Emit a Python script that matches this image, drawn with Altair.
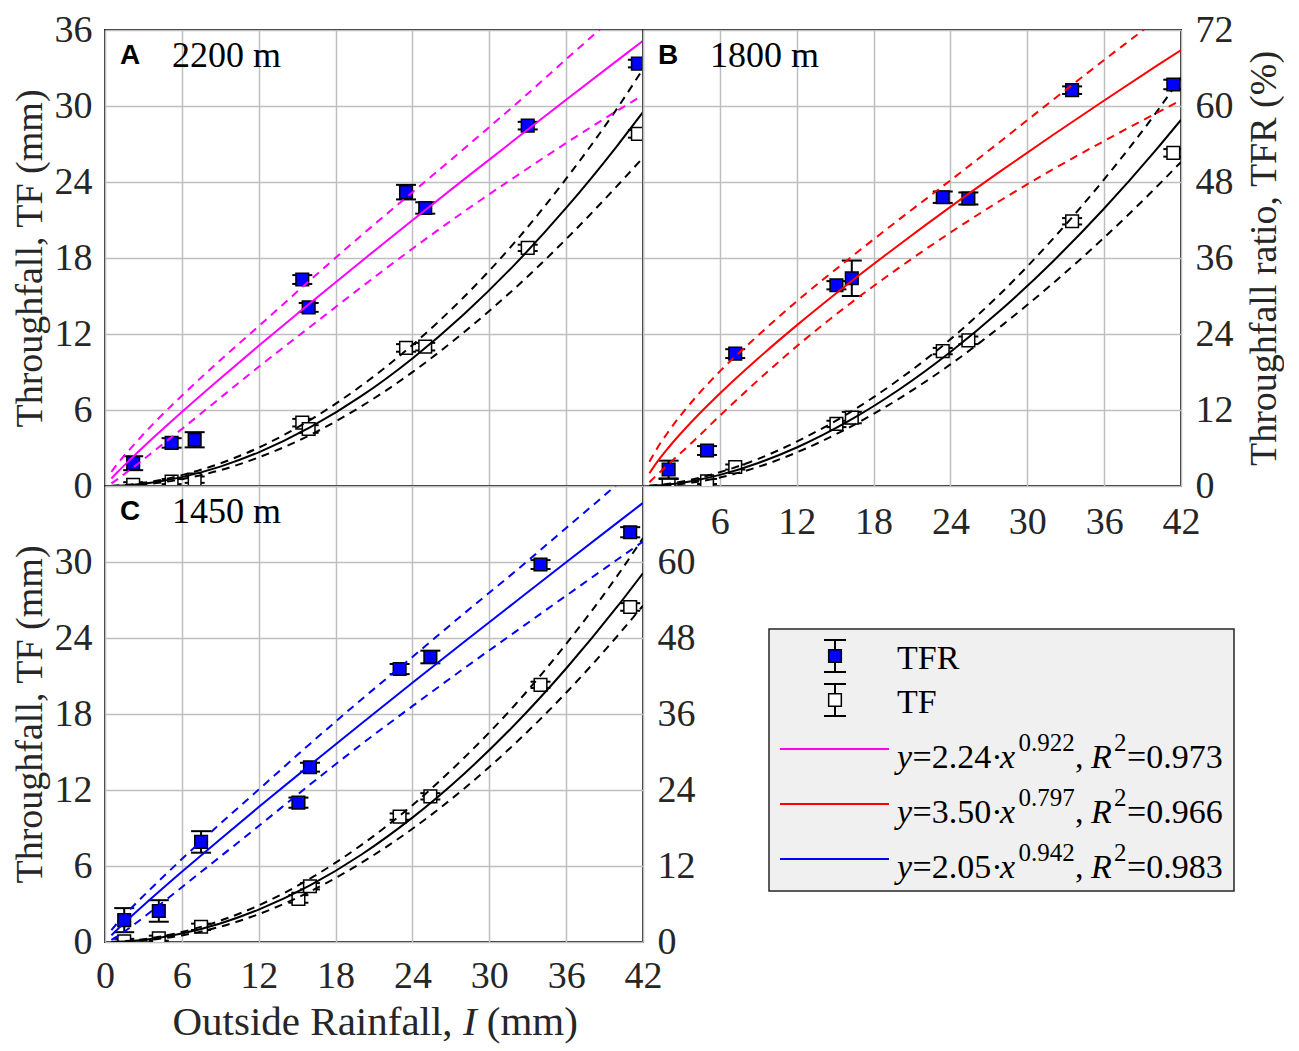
import altair as alt
import pandas as pd

# ---------------- data ----------------
x_grid = [0.5, 1, 2, 4, 6, 9, 12, 16, 20, 24, 28, 32, 36, 40, 42]

# Panel A : 2200 m
a_rain = [2.2, 5.2, 7.0, 15.4, 15.9, 23.5, 25.0, 33.0, 41.6]
a_tfr = [3.6, 6.8, 7.3, 32.6, 28.2, 46.4, 43.9, 56.9, 66.7]
a_tfr_err = [1.1, 0.75, 1.2, 0.7, 0.7, 1.15, 0.9, 0.6, 0.6]
a_tf = [0.1, 0.35, 0.5, 5.0, 4.5, 10.9, 11.0, 18.8, 27.8]
a_tf_err = [0.2, 0.2, 0.25, 0.3, 0.3, 0.3, 0.3, 0.25, 0.3]
a_fit = [1.18, 2.24, 4.24, 8.04, 11.69, 16.98, 22.14, 28.86, 35.46, 41.96, 48.37, 54.70, 60.98, 67.20, 70.29]
a_fit_hi = [2.24, 3.58, 5.94, 10.29, 14.26, 19.87, 25.24, 32.47, 39.54, 46.37, 53.21, 60.17, 67.38, 74.59, 78.37]
a_fit_lo = [0.41, 1.12, 2.63, 5.79, 9.00, 13.92, 18.82, 25.11, 31.38, 37.47, 43.29, 48.79, 54.15, 59.27, 61.71]
a_tf_fit = [0.006, 0.022, 0.085, 0.32, 0.70, 1.53, 2.66, 4.62, 7.09, 10.07, 13.54, 17.50, 21.95, 26.88, 29.52]
a_tf_hi = [0.011, 0.036, 0.119, 0.41, 0.86, 1.79, 3.03, 5.20, 7.91, 11.13, 14.90, 19.25, 24.26, 29.84, 32.92]
a_tf_lo = [0.002, 0.011, 0.053, 0.23, 0.54, 1.25, 2.26, 4.02, 6.28, 8.99, 12.12, 15.61, 19.49, 23.71, 25.92]

# Panel B : 1800 m
b_rain = [2.0, 5.0, 7.2, 15.1, 16.3, 23.4, 25.4, 33.5, 41.4]
b_tfr = [2.6, 5.6, 20.9, 31.7, 32.8, 45.6, 45.4, 62.5, 63.4]
b_tfr_err = [1.4, 0.7, 0.7, 0.65, 2.8, 0.9, 0.95, 0.6, 0.75]
b_tf = [0.05, 0.36, 1.5, 4.9, 5.4, 10.65, 11.5, 20.9, 26.3]
b_tf_err = [0.5, 0.2, 0.2, 0.25, 0.45, 0.25, 0.3, 0.25, 0.3]
b_fit = [2.01, 3.50, 6.08, 10.57, 14.60, 20.17, 25.36, 31.90, 38.10, 44.07, 49.83, 55.42, 60.87, 66.21, 68.83]
b_fit_hi = [3.82, 5.60, 8.63, 13.74, 18.10, 23.80, 29.16, 35.73, 42.10, 48.26, 54.56, 60.96, 67.26, 73.49, 76.75]
b_fit_lo = [0.60, 1.58, 3.47, 7.19, 11.10, 16.74, 22.06, 28.55, 34.48, 40.02, 45.20, 49.99, 54.48, 58.79, 60.91]
b_tf_fit = [0.010, 0.035, 0.122, 0.423, 0.876, 1.815, 3.04, 5.10, 7.62, 10.58, 13.95, 17.73, 21.91, 26.48, 28.91]
b_tf_hi = [0.019, 0.056, 0.173, 0.55, 1.09, 2.14, 3.50, 5.72, 8.42, 11.58, 15.28, 19.51, 24.21, 29.40, 32.24]
b_tf_lo = [0.003, 0.016, 0.069, 0.29, 0.67, 1.51, 2.65, 4.57, 6.90, 9.60, 12.66, 16.00, 19.61, 23.52, 25.58]

# Panel C : 1450 m
c_rain = [1.5, 4.2, 7.5, 15.1, 16.0, 23.0, 25.4, 34.0, 41.0]
c_tfr = [3.45, 4.9, 15.8, 22.0, 27.6, 43.1, 45.0, 59.6, 64.7]
c_tfr_err = [1.9, 1.7, 1.7, 0.8, 0.7, 0.8, 1.0, 0.7, 0.8]
c_tf = [0.05, 0.3, 1.2, 3.4, 4.4, 9.9, 11.5, 20.3, 26.45]
c_tf_err = [0.2, 0.2, 0.25, 0.3, 0.25, 0.25, 0.25, 0.25, 0.3]
c_fit = [1.07, 2.05, 3.94, 7.57, 11.09, 16.24, 21.30, 27.93, 34.47, 40.92, 47.32, 53.65, 59.96, 66.22, 69.33]
c_fit_hi = [1.87, 3.08, 5.24, 9.24, 13.09, 18.68, 24.07, 31.28, 38.26, 45.01, 51.82, 58.48, 65.36, 72.31, 75.92]
c_fit_lo = [0.32, 0.92, 2.36, 5.45, 8.65, 13.48, 18.32, 24.86, 31.20, 37.24, 43.16, 48.93, 54.68, 60.39, 63.23]
c_tf_fit = [0.005, 0.021, 0.079, 0.303, 0.665, 1.46, 2.56, 4.47, 6.89, 9.82, 13.25, 17.17, 21.59, 26.49, 29.12]
c_tf_hi = [0.009, 0.031, 0.105, 0.37, 0.79, 1.68, 2.89, 5.00, 7.65, 10.80, 14.51, 18.71, 23.53, 28.92, 31.89]
c_tf_lo = [0.002, 0.009, 0.047, 0.22, 0.52, 1.21, 2.20, 3.98, 6.24, 8.94, 12.08, 15.66, 19.68, 24.16, 26.56]

x_ticks = [0, 6, 12, 18, 24, 30, 36, 42]
tf_ticks = [0, 6, 12, 18, 24, 30, 36]
tfr_ticks = [0, 12, 24, 36, 48, 60, 72]

panel_letters = ["A", "B", "C"]
panel_elev = ["2200 m", "1800 m", "1450 m"]
tf_title = "Throughfall, TF (mm)"
tfr_title = "Throughfall ratio, TFR (%)"
x_title_parts = ["Outside Rainfall,", "I", "(mm)"]

legend_marker_labels = ["TFR", "TF"]
legend_coef = ["2.24", "3.50", "2.05"]
legend_exp = ["0.922", "0.797", "0.942"]
legend_r2 = ["0.973", "0.966", "0.983"]
fit_colors = ["#ff00ff", "#ff0000", "#0000ff"]

# ---------------- styling ----------------
W, H = 538, 456
SERIF = "Liberation Serif"
SANS = "Liberation Sans"
INK = "#262626"
GRID = "#bfbfbf"
MARK_BLUE = "#0000ff"

XS = alt.Scale(domain=[0, 42], nice=False, zero=False)
TFS = alt.Scale(domain=[0, 36], nice=False)
TFRS = alt.Scale(domain=[0, 72], nice=False)


def axis(**kw):
    base = dict(domain=False, ticks=False, tickSize=0, gridColor=GRID, gridWidth=1.5)
    base.update(kw)
    return alt.Axis(**base)


def pts_frame(rain, tfr, tfr_err, tf, tf_err):
    return pd.DataFrame({
        "I": rain,
        "tfr": tfr,
        "tfr_lo": [v - e for v, e in zip(tfr, tfr_err)],
        "tfr_hi": [v + e for v, e in zip(tfr, tfr_err)],
        "tf": tf,
        "tf_lo": [v - e for v, e in zip(tf, tf_err)],
        "tf_hi": [v + e for v, e in zip(tf, tf_err)],
    })


def curve_frame(vals):
    return pd.DataFrame({"I": x_grid, "v": vals})


def band_frame(hi, lo):
    n = len(x_grid)
    return pd.DataFrame({"I": x_grid + x_grid, "v": hi + lo,
                         "band": ["upper"] * n + ["lower"] * n})


def text_layer(txt, x, y, **mk):
    return alt.Chart(pd.DataFrame({"t": [txt]})).mark_text(**mk).encode(
        text="t:N", x=alt.value(x), y=alt.value(y))


def build_panel(idx, rain, tfr, tfr_err, tf, tf_err, fit, fit_hi, fit_lo,
                tf_fit, tf_hi, tf_lo, xax, tfax, tfrax, extra=()):
    color = fit_colors[idx]
    pts = pts_frame(rain, tfr, tfr_err, tf, tf_err)
    X = alt.X("I:Q", scale=XS, axis=xax)

    def ytf(f):
        return alt.Y(f"{f}:Q", scale=TFS, axis=tfax)

    def ytfr(f):
        return alt.Y(f"{f}:Q", scale=TFRS, axis=tfrax)

    def cap():
        return dict(orient="horizontal", size=20, thickness=2, color="black",
                    opacity=1, clip=True)

    base = alt.Chart(pts)
    tf_group = alt.layer(
        base.mark_rule(color="black", strokeWidth=2, clip=True).encode(
            x=X, y=ytf("tf_lo"), y2=alt.Y2("tf_hi")),
        base.mark_tick(**cap()).encode(x=X, y=ytf("tf_lo")),
        base.mark_tick(**cap()).encode(x=X, y=ytf("tf_hi")),
        base.mark_point(shape="square", filled=True, fill="white", stroke="black",
                        strokeWidth=1.5, size=160, opacity=1, clip=True).encode(
            x=X, y=ytf("tf")),
        alt.Chart(band_frame(tf_hi, tf_lo)).mark_line(
            color="black", strokeWidth=2, strokeDash=[8, 6],
            interpolate="monotone", clip=True).encode(
            x=X, y=ytf("v"), detail="band:N"),
        alt.Chart(curve_frame(tf_fit)).mark_line(
            color="black", strokeWidth=2, interpolate="monotone", clip=True).encode(
            x=X, y=ytf("v")),
    )
    tfr_group = alt.layer(
        base.mark_rule(color="black", strokeWidth=2, clip=True).encode(
            x=X, y=ytfr("tfr_lo"), y2=alt.Y2("tfr_hi")),
        base.mark_tick(**cap()).encode(x=X, y=ytfr("tfr_lo")),
        base.mark_tick(**cap()).encode(x=X, y=ytfr("tfr_hi")),
        base.mark_point(shape="square", filled=True, fill=MARK_BLUE, stroke="black",
                        strokeWidth=1.5, size=160, opacity=1, clip=True).encode(
            x=X, y=ytfr("tfr")),
        alt.Chart(band_frame(fit_hi, fit_lo)).mark_line(
            color=color, strokeWidth=2, strokeDash=[8, 6],
            interpolate="monotone", clip=True).encode(
            x=X, y=ytfr("v"), detail="band:N"),
        alt.Chart(curve_frame(fit)).mark_line(
            color=color, strokeWidth=2, interpolate="monotone", clip=True).encode(
            x=X, y=ytfr("v")),
    )
    lab_y = 26
    letter = text_layer(panel_letters[idx], 15, lab_y, font=SANS, fontSize=28,
                        fontWeight="bold", align="left", baseline="middle", color="black")
    elev = text_layer(panel_elev[idx], 67, lab_y, font=SERIF, fontSize=36,
                      align="left", baseline="middle", color="black")
    return alt.layer(tf_group, tfr_group, letter, elev, *extra).resolve_scale(
        y="independent").properties(width=W, height=H)


hide0 = "datum.value == 0 ? '' : datum.label"
pA = build_panel(
    0, a_rain, a_tfr, a_tfr_err, a_tf, a_tf_err, a_fit, a_fit_hi, a_fit_lo,
    a_tf_fit, a_tf_hi, a_tf_lo,
    axis(values=x_ticks, grid=True, labels=False, title=None),
    axis(orient="left", values=tf_ticks, grid=True, labels=True, labelPadding=13,
         title=tf_title, titlePadding=5),
    axis(orient="right", values=tfr_ticks, grid=False, labels=False, title=None),
)
pB = build_panel(
    1, b_rain, b_tfr, b_tfr_err, b_tf, b_tf_err, b_fit, b_fit_hi, b_fit_lo,
    b_tf_fit, b_tf_hi, b_tf_lo,
    axis(values=x_ticks, grid=True, labels=True, labelPadding=17, labelFlush=False,
         labelExpr=hide0, title=None),
    axis(orient="left", values=tf_ticks, grid=True, labels=False, title=None),
    axis(orient="right", values=tfr_ticks, grid=False, labels=True, labelPadding=14,
         title=tfr_title, titleAngle=270, titleBaseline="top", titlePadding=12),
)

# composed x-axis title with italic I (panel C)
XT_SIZE = 41
xt_y = H + 93
x_title_layers = [
    text_layer(x_title_parts[0], 67.5, xt_y, font=SERIF, fontSize=XT_SIZE,
               align="left", baseline="alphabetic", color=INK),
    text_layer(x_title_parts[1], 357.9, xt_y, font=SERIF, fontSize=XT_SIZE,
               fontStyle="italic", align="left", baseline="alphabetic", color=INK),
    text_layer(x_title_parts[2], 381.8, xt_y, font=SERIF, fontSize=XT_SIZE,
               align="left", baseline="alphabetic", color=INK),
]

pC = build_panel(
    2, c_rain, c_tfr, c_tfr_err, c_tf, c_tf_err, c_fit, c_fit_hi, c_fit_lo,
    c_tf_fit, c_tf_hi, c_tf_lo,
    axis(values=x_ticks, grid=True, labels=True, labelPadding=15, labelFlush=False,
         title=None),
    axis(orient="left", values=tf_ticks, grid=True, labels=True, labelPadding=13,
         labelExpr="datum.value >= 36 ? '' : datum.label",
         title=tf_title, titlePadding=5),
    axis(orient="right", values=tfr_ticks, grid=False, labels=True, labelPadding=14,
         labelExpr="datum.value >= 72 ? '' : datum.label", title=None),
    extra=x_title_layers,
)

# ---------------- legend panel ----------------
one = alt.Chart(pd.DataFrame({"k": [0]}))
LX = 2    # horizontal shift of the legend block
LY = -3   # vertical shift of the legend block
leg = [
    one.mark_rect(fill="#f0f0f0", stroke=INK, strokeWidth=1.5).encode(
        x=alt.value(124 + LX), x2=alt.value(589 + LX),
        y=alt.value(146 + LY), y2=alt.value(408 + LY)),
]
for fill, cy in [(MARK_BLUE, 173 + LY), ("white", 217 + LY)]:
    sx = 190 + LX
    leg += [
        one.mark_rule(color="black", strokeWidth=2).encode(
            x=alt.value(sx), y=alt.value(cy - 16), y2=alt.value(cy + 16)),
        one.mark_rule(color="black", strokeWidth=2).encode(
            x=alt.value(sx - 11), x2=alt.value(sx + 11), y=alt.value(cy - 16)),
        one.mark_rule(color="black", strokeWidth=2).encode(
            x=alt.value(sx - 11), x2=alt.value(sx + 11), y=alt.value(cy + 16)),
        one.mark_point(shape="square", filled=True, fill=fill, stroke="black",
                       strokeWidth=1.5, size=160, opacity=1).encode(
            x=alt.value(sx), y=alt.value(cy)),
    ]
for lab, by in zip(legend_marker_labels, [186 + LY, 230 + LY]):
    leg.append(text_layer(lab, 252 + LX, by, font=SERIF, fontSize=34, align="left",
                          baseline="alphabetic", color="black"))

TX0 = 252 + LX
for i, ly in enumerate([266 + LY, 321 + LY, 376 + LY]):
    leg.append(one.mark_rule(color=fit_colors[i], strokeWidth=2).encode(
        x=alt.value(135 + LX), x2=alt.value(244 + LX), y=alt.value(ly)))
    main_y = ly + 19
    sup_y = ly + 2
    segs = [
        ("y", "italic", 0, main_y, 34),
        ("=" + legend_coef[i] + "\u00b7", "normal", 15.5, main_y, 34),
        ("x", "italic", 103, main_y, 34),
        (legend_exp[i], "normal", 121.5, sup_y, 25),
        (",", "normal", 178, main_y, 34),
        ("R", "italic", 194, main_y, 34),
        ("2", "normal", 217, sup_y, 25),
        ("=" + legend_r2[i], "normal", 230, main_y, 34),
    ]
    for txt, style, dx, yy, fs in segs:
        leg.append(text_layer(txt, TX0 + dx, yy, font=SERIF, fontSize=fs,
                              fontStyle=style, align="left", baseline="alphabetic",
                              color="black"))

pL = alt.layer(*leg).properties(
    width=W, height=H, view=alt.ViewBackground(stroke="transparent"))

chart = alt.concat(pA, pB, pC, pL, columns=2, spacing=0, bounds="flush").properties(
    padding={"left": 2, "top": 2, "right": 0, "bottom": 0}
).configure_view(
    stroke=INK, strokeWidth=2
).configure_axis(
    labelFont=SERIF, labelFontSize=38, labelColor=INK,
    titleFont=SERIF, titleFontSize=38, titleFontWeight="normal", titleColor=INK,
)

chart.save("out.html", embed_options={"renderer": "svg", "actions": False})
